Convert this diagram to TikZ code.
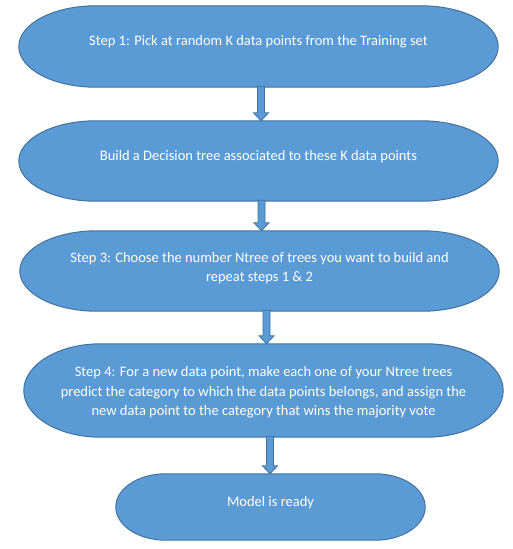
\documentclass[tikz,border=0pt]{standalone}
\usepackage{fontspec}
\setmainfont{Carlito}
\usetikzlibrary{calc}
\definecolor{boxfill}{HTML}{5B9BD5}
\definecolor{boxline}{HTML}{41719C}
\pgfdeclarelayer{paper}
\pgfdeclarelayer{shapes}
\pgfsetlayers{paper,shapes,main}
\newcommand\txt[2]{\raisebox{#1}[0pt][0pt]{\begin{tabular}[t]{@{}c@{}}#2\end{tabular}}}
\newcommand\termshape[2]{%
  \begin{pgfonlayer}{shapes}
  \path[termfill] let \p1=(#1.north west), \p2=(#1.south east), \p3=($(#1.north)-(#1.center)$) in
    ({\x1+#2pt},\y1) -- ({\x2-#2pt},\y1)
    arc[start angle=90,end angle=-90,x radius=#2pt,y radius=\y3]
    -- ({\x1+#2pt},\y2)
    arc[start angle=270,end angle=90,x radius=#2pt,y radius=\y3] -- cycle;
  \end{pgfonlayer}}
\newcommand\blockarrow[3]{%
  \path[arrowfill] let \p1=(#1.south), \p2=(#2.north) in
    ({#3pt-3.5pt},{\y1+1pt}) -- ({#3pt+3.5pt},{\y1+1pt}) -- ({#3pt+3.5pt},{\y2+8pt})
    -- ({#3pt+7.5pt},{\y2+8pt}) -- ({#3pt},\y2) -- ({#3pt-7.5pt},{\y2+8pt})
    -- ({#3pt-3.5pt},{\y2+8pt}) -- cycle;}
\begin{document}
\begin{tikzpicture}[x=1pt,y=-1pt,
  font=\fontsize{14.5}{19.4}\selectfont,
  termnode/.style={inner sep=0pt, text=white},
  termfill/.style={fill=boxfill, draw=boxline, line width=1pt},
  arrowfill/.style={fill=boxfill, draw=boxline, line width=0.8pt, line join=miter}]
\begin{pgfonlayer}{paper}
\fill[white] (0,0) rectangle (513,549);
\end{pgfonlayer}
\useasboundingbox (0,0) rectangle (513,549);

\node[termnode, minimum width=479pt, minimum height=81pt] (b1) at (258.5,46.5)
  {\txt{0.8pt}{Step 1: Pick at random K data points from the Training set}};
\node[termnode, minimum width=479pt, minimum height=80pt] (b2) at (258.5,161)
  {\txt{1pt}{Build a Decision tree associated to these K data points}};
\node[termnode, minimum width=479pt, minimum height=80pt] (b3) at (259.5,271)
  {\txt{8.7pt}{Step 3: Choose the number Ntree of trees you want to build and\\repeat steps 1 \& 2}};
\node[termnode, minimum width=479pt, minimum height=93pt] (b4) at (263.5,390.5)
  {\txt{13.8pt}{Step 4: For a new data point, make each one of your Ntree trees\\predict the category to which the data points belongs, and assign the\\new data point to the category that wins the majority vote}};
\node[termnode, minimum width=309pt, minimum height=66pt] (b5) at (270.5,507)
  {\txt{1pt}{Model is ready}};

\termshape{b1}{77}
\termshape{b2}{77}
\termshape{b3}{77}
\termshape{b4}{77}
\termshape{b5}{50}

\blockarrow{b1}{b2}{261}
\blockarrow{b2}{b3}{261.5}
\blockarrow{b3}{b4}{266.5}
\blockarrow{b4}{b5}{270}
\end{tikzpicture}
\end{document}
